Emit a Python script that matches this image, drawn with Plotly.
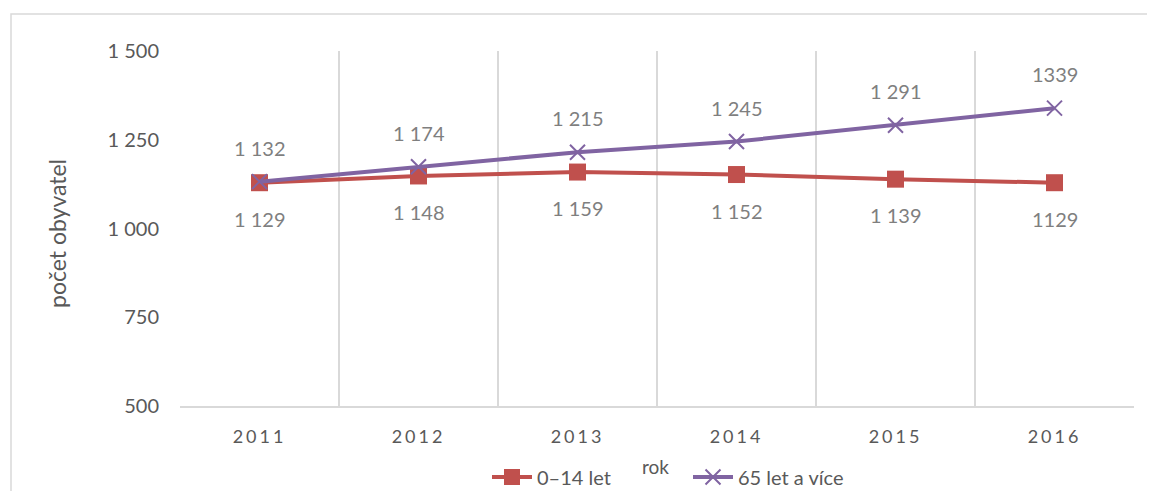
import plotly.graph_objects as go

years = [2011, 2012, 2013, 2014, 2015, 2016]
kids = [1129, 1148, 1159, 1152, 1139, 1129]
seniors = [1132, 1174, 1215, 1245, 1291, 1339]
kids_labels = ["1 129", "1 148", "1 159", "1 152", "1 139", "1129"]
seniors_labels = ["1 132", "1 174", "1 215", "1 245", "1 291", "1339"]
y_ticks = [500, 750, 1000, 1250, 1500]
y_tick_text = ["500", "750", "1 000", "1 250", "1 500"]

RED = "#c0504d"
PURPLE = "#8064a2"
GRAY_TXT = "#595959"
LBL = "#7f7f7f"
FONT = "Lato, Carlito, 'Open Sans', sans-serif"

OFF = 8  # page body margin
W, H = 1155 - OFF, 491 - OFF
L, R, T, B = 180 - OFF, 21, 51 - OFF, 85
pw, ph = W - L - R, H - T - B


def px_x(x):
    return (x - OFF - L) / pw


def px_y(y):
    return (T + ph - (y - OFF)) / ph


fig = go.Figure()
fig.add_trace(go.Scatter(
    x=years, y=kids, name="0–14 let", mode="lines+markers",
    line=dict(color=RED, width=4),
    marker=dict(symbol="square", size=17, color=RED),
))
fig.add_trace(go.Scatter(
    x=years, y=seniors, name="65 let a více", mode="lines+markers",
    line=dict(color=PURPLE, width=4),
    marker=dict(symbol="x-thin", size=15, color=PURPLE,
                line=dict(color=PURPLE, width=2)),
))

annotations = []
for x, y, t in zip(years, kids, kids_labels):
    annotations.append(dict(x=x, y=y, xref="x", yref="y", text=t, showarrow=False,
                            yshift=-36, font=dict(size=20, color=LBL, family=FONT)))
for x, y, t in zip(years, seniors, seniors_labels):
    annotations.append(dict(x=x, y=y, xref="x", yref="y", text=t, showarrow=False,
                            yshift=34, font=dict(size=20, color=LBL, family=FONT)))
annotations.append(dict(text="rok", xref="paper", yref="paper",
                        x=px_x(655), y=px_y(466), showarrow=False,
                        font=dict(size=19, color=GRAY_TXT, family=FONT),
                        xanchor="center", yanchor="middle"))
annotations.append(dict(text="počet obyvatel", xref="paper", yref="paper",
                        x=px_x(57), y=px_y(234), showarrow=False, textangle=-90,
                        font=dict(size=23, color=GRAY_TXT, family=FONT),
                        xanchor="center", yanchor="middle"))

fig.update_layout(
    width=W, height=H,
    margin=dict(l=L, r=R, t=T, b=B, autoexpand=False),
    paper_bgcolor="white", plot_bgcolor="white",
    font=dict(family=FONT, color=GRAY_TXT, size=18),
    showlegend=True,
    legend=dict(orientation="h", x=px_x(487), xanchor="left",
                y=px_y(477), yanchor="middle",
                font=dict(size=20, color=GRAY_TXT, family=FONT),
                entrywidth=146, entrywidthmode="pixels",
                bgcolor="rgba(0,0,0,0)", itemwidth=40),
    xaxis=dict(
        range=[2010.5, 2016.5], tickvals=years,
        ticktext=[f'<span style="letter-spacing:3px">{y}</span>' for y in years],
        showgrid=False, zeroline=False, showline=True, linecolor="#d9d9d9",
        linewidth=1.5, ticks="", tickfont=dict(size=18, color=GRAY_TXT),
        ticklabelstandoff=14, automargin=False,
        minor=dict(tick0=2010.5, dtick=1, showgrid=True, gridcolor="#d9d9d9",
                   gridwidth=1.5, ticks=""),
    ),
    yaxis=dict(
        range=[500, 1500], tickvals=y_ticks, ticktext=y_tick_text,
        showgrid=False, zeroline=False, showline=False, ticks="",
        tickfont=dict(size=20, color=GRAY_TXT), ticklabelstandoff=20,
        automargin=False,
    ),
    annotations=annotations,
    shapes=[dict(type="rect", xref="paper", yref="paper",
                 x0=px_x(11), x1=px_x(1160),
                 y0=px_y(500), y1=px_y(14),
                 line=dict(color="#d9d9d9", width=1.5), layer="below")],
)

fig.write_html("out.html")
